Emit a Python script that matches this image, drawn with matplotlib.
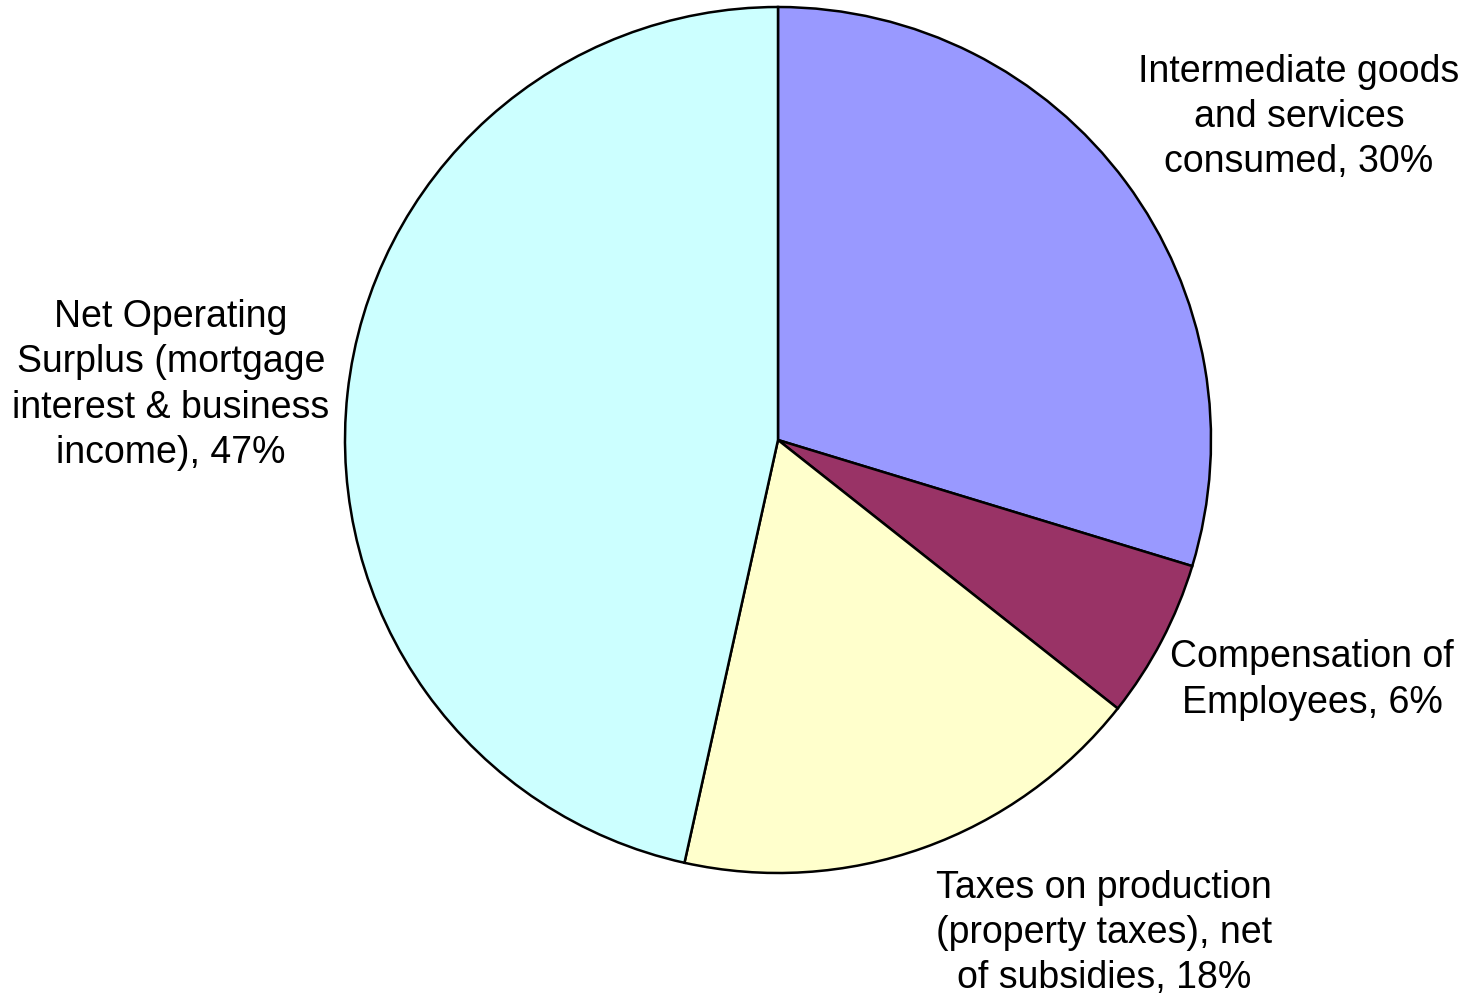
import matplotlib
matplotlib.use('Agg')
import matplotlib.pyplot as plt

# Shares of gross output, clockwise from 12 o'clock
categories = [
    'Intermediate goods\nand services\nconsumed',
    'Compensation of\nEmployees',
    'Taxes on production\n(property taxes), net\nof subsidies',
    'Net Operating\nSurplus (mortgage\ninterest & business\nincome)',
]
shares = [30, 6, 18, 47]
colors = ['#9999FF', '#993366', '#FFFFCC', '#CCFFFF']

# Label centres in figure pixels (x right, y down)
label_pos = [(1299, 117), (1312, 680), (1104, 933), (171, 385)]

W, H = 1469, 1005
CX, CY, R = 778, 440, 433


def main():
    plt.rcParams['font.family'] = ['Liberation Sans', 'DejaVu Sans']
    fig = plt.figure(figsize=(W / 100, H / 100), dpi=100)
    ax = fig.add_axes([0, 0, 1, 1])

    ax.pie(shares, colors=colors, startangle=90, counterclock=False,
           center=(CX, H - CY), radius=R, frame=True,
           wedgeprops=dict(edgecolor='black', linewidth=1.8))
    ax.set_xlim(0, W)
    ax.set_ylim(0, H)
    ax.set_aspect('equal')
    ax.axis('off')

    for name, val, (x, y) in zip(categories, shares, label_pos):
        ax.text(x, H - y, f'{name}, {val}%', ha='center', va='center',
                fontsize=27, linespacing=1.33)

    fig.savefig('out.png', dpi=100)


if __name__ == '__main__':
    main()
